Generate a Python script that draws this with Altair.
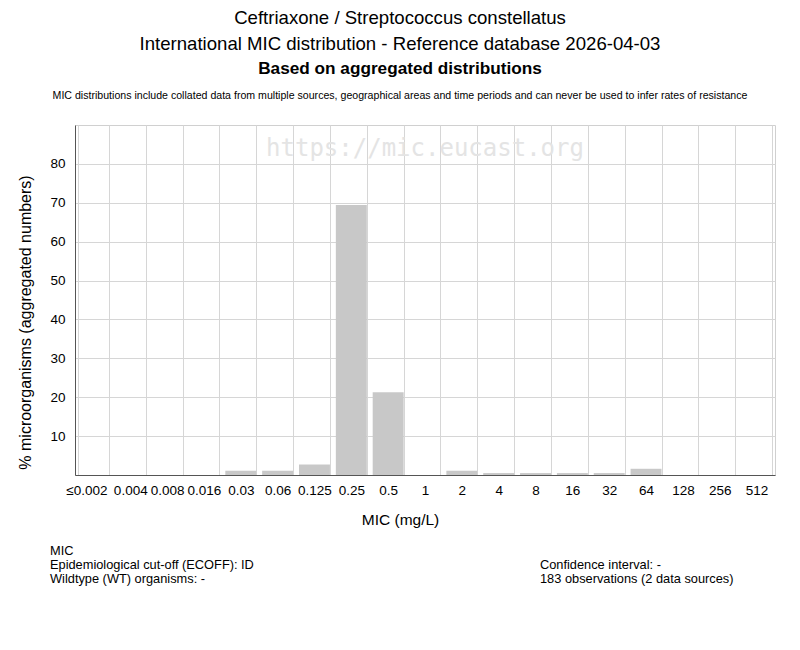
import altair as alt
import pandas as pd

mic_labels = ["≤0.002", "0.004", "0.008", "0.016", "0.03", "0.06", "0.125", "0.25", "0.5",
              "1", "2", "4", "8", "16", "32", "64", "128", "256", "512"]
percent = [0, 0, 0, 0, 1.1, 1.1, 2.7, 69.4, 21.3, 0, 1.1, 0.5, 0.5, 0.5, 0.5, 1.6, 0, 0, 0]
y_ticks = [10, 20, 30, 40, 50, 60, 70, 80]

title_lines = ["Ceftriaxone / Streptococcus constellatus",
               "International MIC distribution - Reference database 2026-04-03"]
bold_line = "Based on aggregated distributions"
fine_print = ("MIC distributions include collated data from multiple sources, geographical areas "
              "and time periods and can never be used to infer rates of resistance")
watermark = "https://mic.eucast.org"
left_notes = ["MIC", "Epidemiological cut-off (ECOFF): ID", "Wildtype (WT) organisms:  -"]
right_notes = ["Confidence interval: -", "183 observations (2 data sources)"]

FONT = "Liberation Sans"
df = pd.DataFrame({"mic": mic_labels, "pct": percent})
one = pd.DataFrame({"k": [0]})

first_label = mic_labels[0]

bars = alt.Chart(df).mark_bar(color="#c8c8c8").encode(
    x=alt.X("mic:N", sort=mic_labels,
            scale=alt.Scale(paddingInner=0.16, paddingOuter=0.08),
            axis=alt.Axis(title="MIC (mg/L)", labelAngle=0, ticks=False, grid=True,
                          tickBand="extent", labelPadding=8, labelFontSize=13.5,
                          labelOffset=alt.condition(f"datum.value == '{first_label}'",
                                                    alt.value(-7), alt.value(0)),
                          titleFontSize=15.5, titleFontWeight="normal",
                          titleX=325, titleY=44, titleBaseline="middle")),
    y=alt.Y("pct:Q", scale=alt.Scale(domain=[0, 90], nice=False),
            axis=alt.Axis(title="% microorganisms (aggregated numbers)", values=y_ticks,
                          ticks=False, labelPadding=10, labelFontSize=13.5,
                          titleFontSize=16, titleFontWeight="normal",
                          titleX=-50, titleY=197, titleBaseline="middle")),
)


def txt(text, x, y, size, weight="normal", align="center", color="#000", font=FONT):
    return alt.Chart(one).mark_text(text=text, fontSize=size, fontWeight=weight, align=align,
                                    baseline="middle", color=color, font=font).encode(
        x=alt.value(x), y=alt.value(y))


layers = [
    txt(watermark, 350, 24, 24, color="#e4e4e4", font="DejaVu Sans Mono"),
    bars,
    txt(title_lines[0], 325, -107, 18.6),
    txt(title_lines[1], 325, -81, 18.6),
    txt(bold_line, 325, -56, 17.2, weight="bold"),
    txt(fine_print, 325, -29, 10.6),
    txt(left_notes[0], -25, 426, 12.8, align="left"),
    txt(left_notes[1], -25, 440, 12.8, align="left"),
    txt(left_notes[2], -25, 454, 12.8, align="left"),
    txt(right_notes[0], 465, 440, 12.8, align="left"),
    txt(right_notes[1], 465, 454, 12.8, align="left"),
]

chart = alt.layer(*layers).properties(
    width=700, height=350,
    autosize=alt.AutoSizeParams(type="none"),
    padding={"left": 67, "top": 117, "right": 17, "bottom": 167},
).configure(font=FONT).configure_view(
    stroke="#d0d0d0", strokeWidth=1
).configure_axis(
    gridColor="#d6d6d6", domainColor="#555555", labelColor="#000", titleColor="#000",
    labelFont=FONT, titleFont=FONT
)

chart.save("out.html", embed_options={"renderer": "svg", "actions": False})
